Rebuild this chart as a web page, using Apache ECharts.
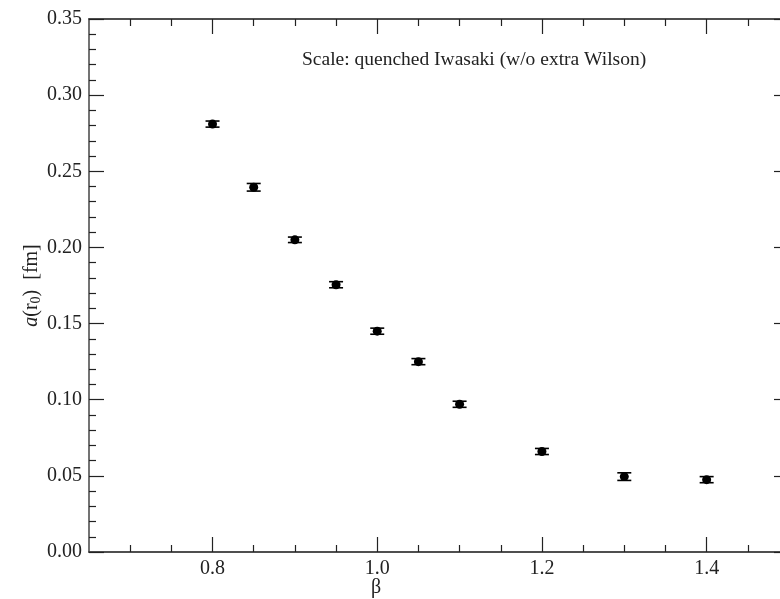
<!DOCTYPE html>
<html>
<head>
<meta charset="utf-8">
<script src="https://cdn.jsdelivr.net/npm/echarts@6/dist/echarts.min.js"></script>
<style>
  html, body { margin: 0; padding: 0; background: #fff; }
  #chart { width: 780px; height: 599px; }
</style>
</head>
<body>
<div id="chart"></div>
<script>
// beta values and lattice spacing a(r0) in fm
const beta = [0.8, 0.85, 0.9, 0.95, 1.0, 1.05, 1.1, 1.2, 1.3, 1.4];
const spacing = [0.281, 0.2395, 0.205, 0.1755, 0.145, 0.125, 0.097, 0.066, 0.0495, 0.0475];
const spacingErr = [0.002, 0.0025, 0.0018, 0.002, 0.002, 0.002, 0.002, 0.002, 0.0025, 0.002];

const xMajorTicks = [0.8, 1.0, 1.2, 1.4];
const xMinorTicks = [0.7, 0.75, 0.85, 0.9, 0.95, 1.05, 1.1, 1.15, 1.25, 1.3, 1.35, 1.45];

const font = 'Liberation Serif';
const ink = '#222';

const chart = echarts.init(document.getElementById('chart'));

function xAx(pos, ticks, len, labels) {
  return {
    type: 'value', position: pos, min: 0.65, max: 1.5,
    axisLine: { show: true, lineStyle: { color: '#444', width: 1.5 } },
    axisTick: { show: true, inside: true, length: len, customValues: ticks, lineStyle: { color: '#222', width: 1.2 } },
    axisLabel: labels ? {
      show: true, customValues: ticks, margin: 7,
      formatter: v => v.toFixed(1),
      fontFamily: font, fontSize: 20, color: ink
    } : { show: false },
    splitLine: { show: false }
  };
}

function yAx(pos, labels) {
  return {
    type: 'value', position: pos, min: 0, max: 0.35, interval: 0.05,
    axisLine: { show: true, lineStyle: { color: '#444', width: 1.5 } },
    axisTick: { show: true, inside: true, length: 15, lineStyle: { color: '#222', width: 1.2 } },
    minorTick: { show: true, splitNumber: 5, length: 7, lineStyle: { color: '#222', width: 1.2 } },
    axisLabel: labels ? {
      show: true, margin: 7, formatter: v => v.toFixed(2),
      fontFamily: font, fontSize: 20, color: ink
    } : { show: false },
    splitLine: { show: false },
    name: labels ? '{i|a}(r{sub|0})  [fm]' : '',
    nameLocation: 'middle',
    nameGap: 46,
    nameMoveOverlap: false,
    nameRotate: 90,
    nameTextStyle: {
      fontFamily: font, fontSize: 20, color: ink,
      rich: {
        i: { fontFamily: font, fontStyle: 'italic', fontSize: 20, color: ink },
        sub: { fontFamily: font, fontSize: 14, color: ink, verticalAlign: 'bottom', padding: [8, 0, 0, 0] }
      }
    }
  };
}

chart.setOption({
  backgroundColor: '#fff',
  animation: false,
  grid: { left: 89, width: 700, top: 19, height: 533, outerBoundsMode: 'none', containLabel: false },
  xAxis: [
    xAx('bottom', xMajorTicks, 15, true),
    xAx('bottom', xMinorTicks, 7, false),
    xAx('top', xMajorTicks, 15, false),
    xAx('top', xMinorTicks, 7, false)
  ],
  yAxis: [yAx('left', true), yAx('right', false)],
  graphic: [
    {
      type: 'text', left: 302, top: 50,
      style: { text: 'Scale: quenched Iwasaki (w/o extra Wilson)', font: '19.5px "Liberation Serif"', fill: ink }
    },
    {
      type: 'text', left: 371, top: 578,
      style: { text: 'β', font: '20px "Liberation Serif"', fill: ink }
    }
  ],
  series: [
    {
      type: 'custom',
      xAxisIndex: 0, yAxisIndex: 0,
      data: beta.map((b, i) => [b, spacing[i] - spacingErr[i], spacing[i] + spacingErr[i]]),
      renderItem: (params, api) => {
        const lo = api.coord([api.value(0), api.value(1)]);
        const hi = api.coord([api.value(0), api.value(2)]);
        const w = 7;
        const st = { stroke: '#000', lineWidth: 1.6 };
        return {
          type: 'group',
          children: [
            { type: 'line', shape: { x1: lo[0], y1: lo[1], x2: hi[0], y2: hi[1] }, style: st },
            { type: 'line', shape: { x1: lo[0] - w, y1: lo[1], x2: lo[0] + w, y2: lo[1] }, style: st },
            { type: 'line', shape: { x1: hi[0] - w, y1: hi[1], x2: hi[0] + w, y2: hi[1] }, style: st }
          ]
        };
      },
      z: 2
    },
    {
      type: 'scatter',
      xAxisIndex: 0, yAxisIndex: 0,
      data: beta.map((b, i) => [b, spacing[i]]),
      symbol: 'circle', symbolSize: 9,
      itemStyle: { color: '#000', opacity: 1 },
      z: 3
    }
  ]
});
</script>
</body>
</html>
